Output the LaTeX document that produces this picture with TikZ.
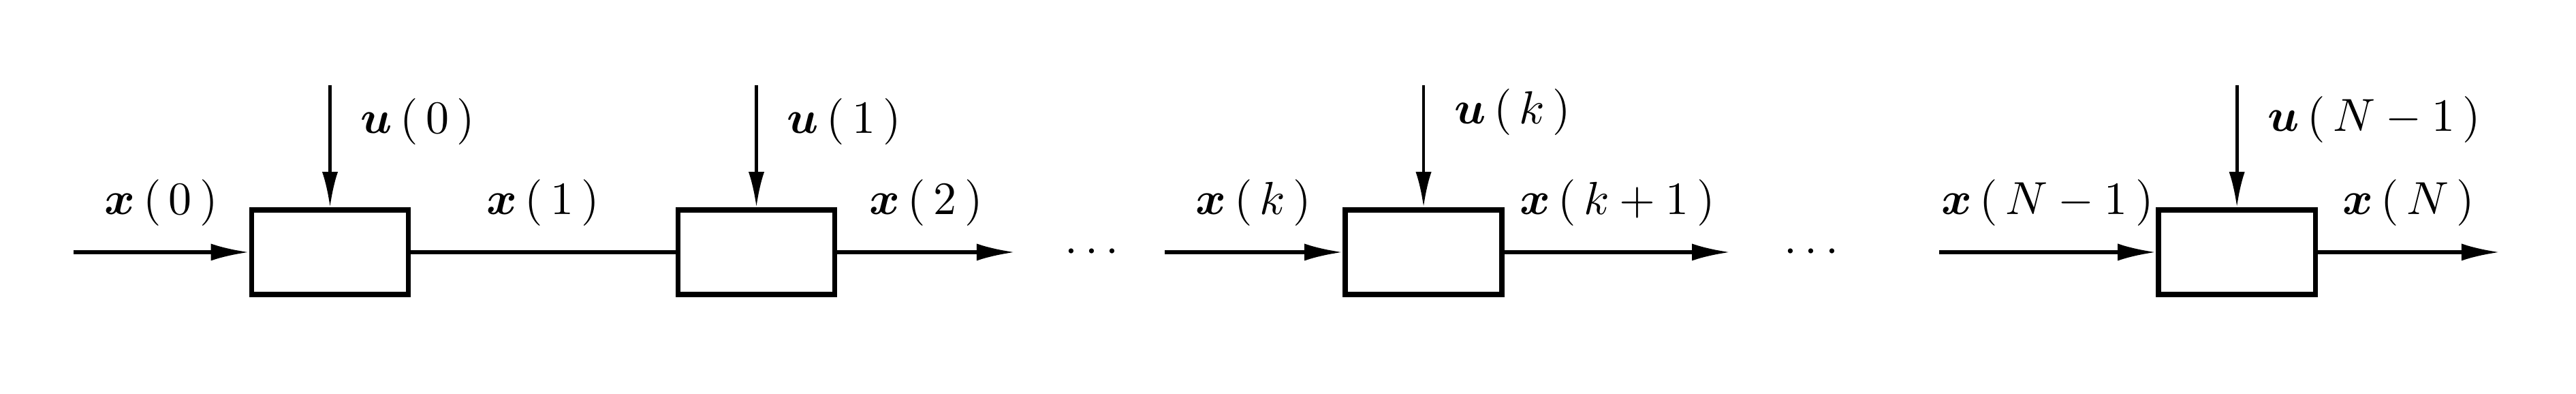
\documentclass[tikz,border=0pt]{standalone}
\usepackage{amsmath,bm}
\usetikzlibrary{arrows.meta}
\tikzset{
  stage/.style={draw, line width=1.1pt, minimum width=1.19cm, minimum height=0.64cm, inner sep=0pt},
  flow/.style={line width=0.75pt, -{Latex[length=2.9mm,width=1.3mm]}},
  link/.style={line width=0.75pt},
  ctrl/.style={line width=0.7pt, -{Latex[length=2.7mm,width=1.2mm]}},
}
\newcommand{\sig}[2]{$\bm{#1}\,(\,#2\,)$}
\begin{document}
\begin{tikzpicture}
     \useasboundingbox (0,0) rectangle (19.545,2.987);
     \node[stage] (s0) at (2.504,1.075) {};
     \node[stage] (s1) at (5.739,1.075) {};
     \node[stage] (sk) at (10.801,1.075) {};
     \node[stage] (sN) at (16.972,1.075) {};
     \coordinate (in0) at (0.558,1.075);
     \coordinate (out1) at (7.700,1.075);
     \coordinate (ink) at (8.837,1.075);
     \coordinate (outk) at (13.127,1.075);
     \coordinate (inN) at (14.713,1.075);
     \coordinate (outN) at (18.966,1.075);
     \coordinate (u0) at (2.504,2.341);
     \coordinate (u1) at (5.739,2.341);
     \coordinate (uk) at (10.801,2.341);
     \coordinate (uN) at (16.972,2.341);
     \node (dots1) at (8.315,1.075) {$\cdots$};
     \node (dots2) at (13.773,1.075) {$\cdots$};
     \draw[flow] (in0) -- (s0) node[midway, above=2pt] {\sig{x}{0}};
     \draw[link] (s0) -- (s1) node[midway, above=2pt] {\sig{x}{1}};
     \draw[flow] (s1) -- (out1) node[midway, above=2pt] {\sig{x}{2}};
     \draw[flow] (ink) -- (sk) node[midway, above=2pt] {\sig{x}{k}};
     \draw[flow] (sk) -- (outk) node[midway, above=2pt] {\sig{x}{k+1}};
     \draw[flow] (inN) -- (sN) node[midway, above=2pt] {\sig{x}{N-1}};
     \draw[flow] (sN) -- (outN) node[midway, above=2pt] {\sig{x}{N}};
     \draw[ctrl] (u0) -- (s0) node[pos=0.3, right=3pt] {\sig{u}{0}};
     \draw[ctrl] (u1) -- (s1) node[pos=0.3, right=3pt] {\sig{u}{1}};
     \draw[ctrl] (uk) -- (sk) node[pos=0.22, right=3pt] {\sig{u}{k}};
     \draw[ctrl] (uN) -- (sN) node[pos=0.28, right=3pt] {\sig{u}{N-1}};
\end{tikzpicture}
\end{document}
